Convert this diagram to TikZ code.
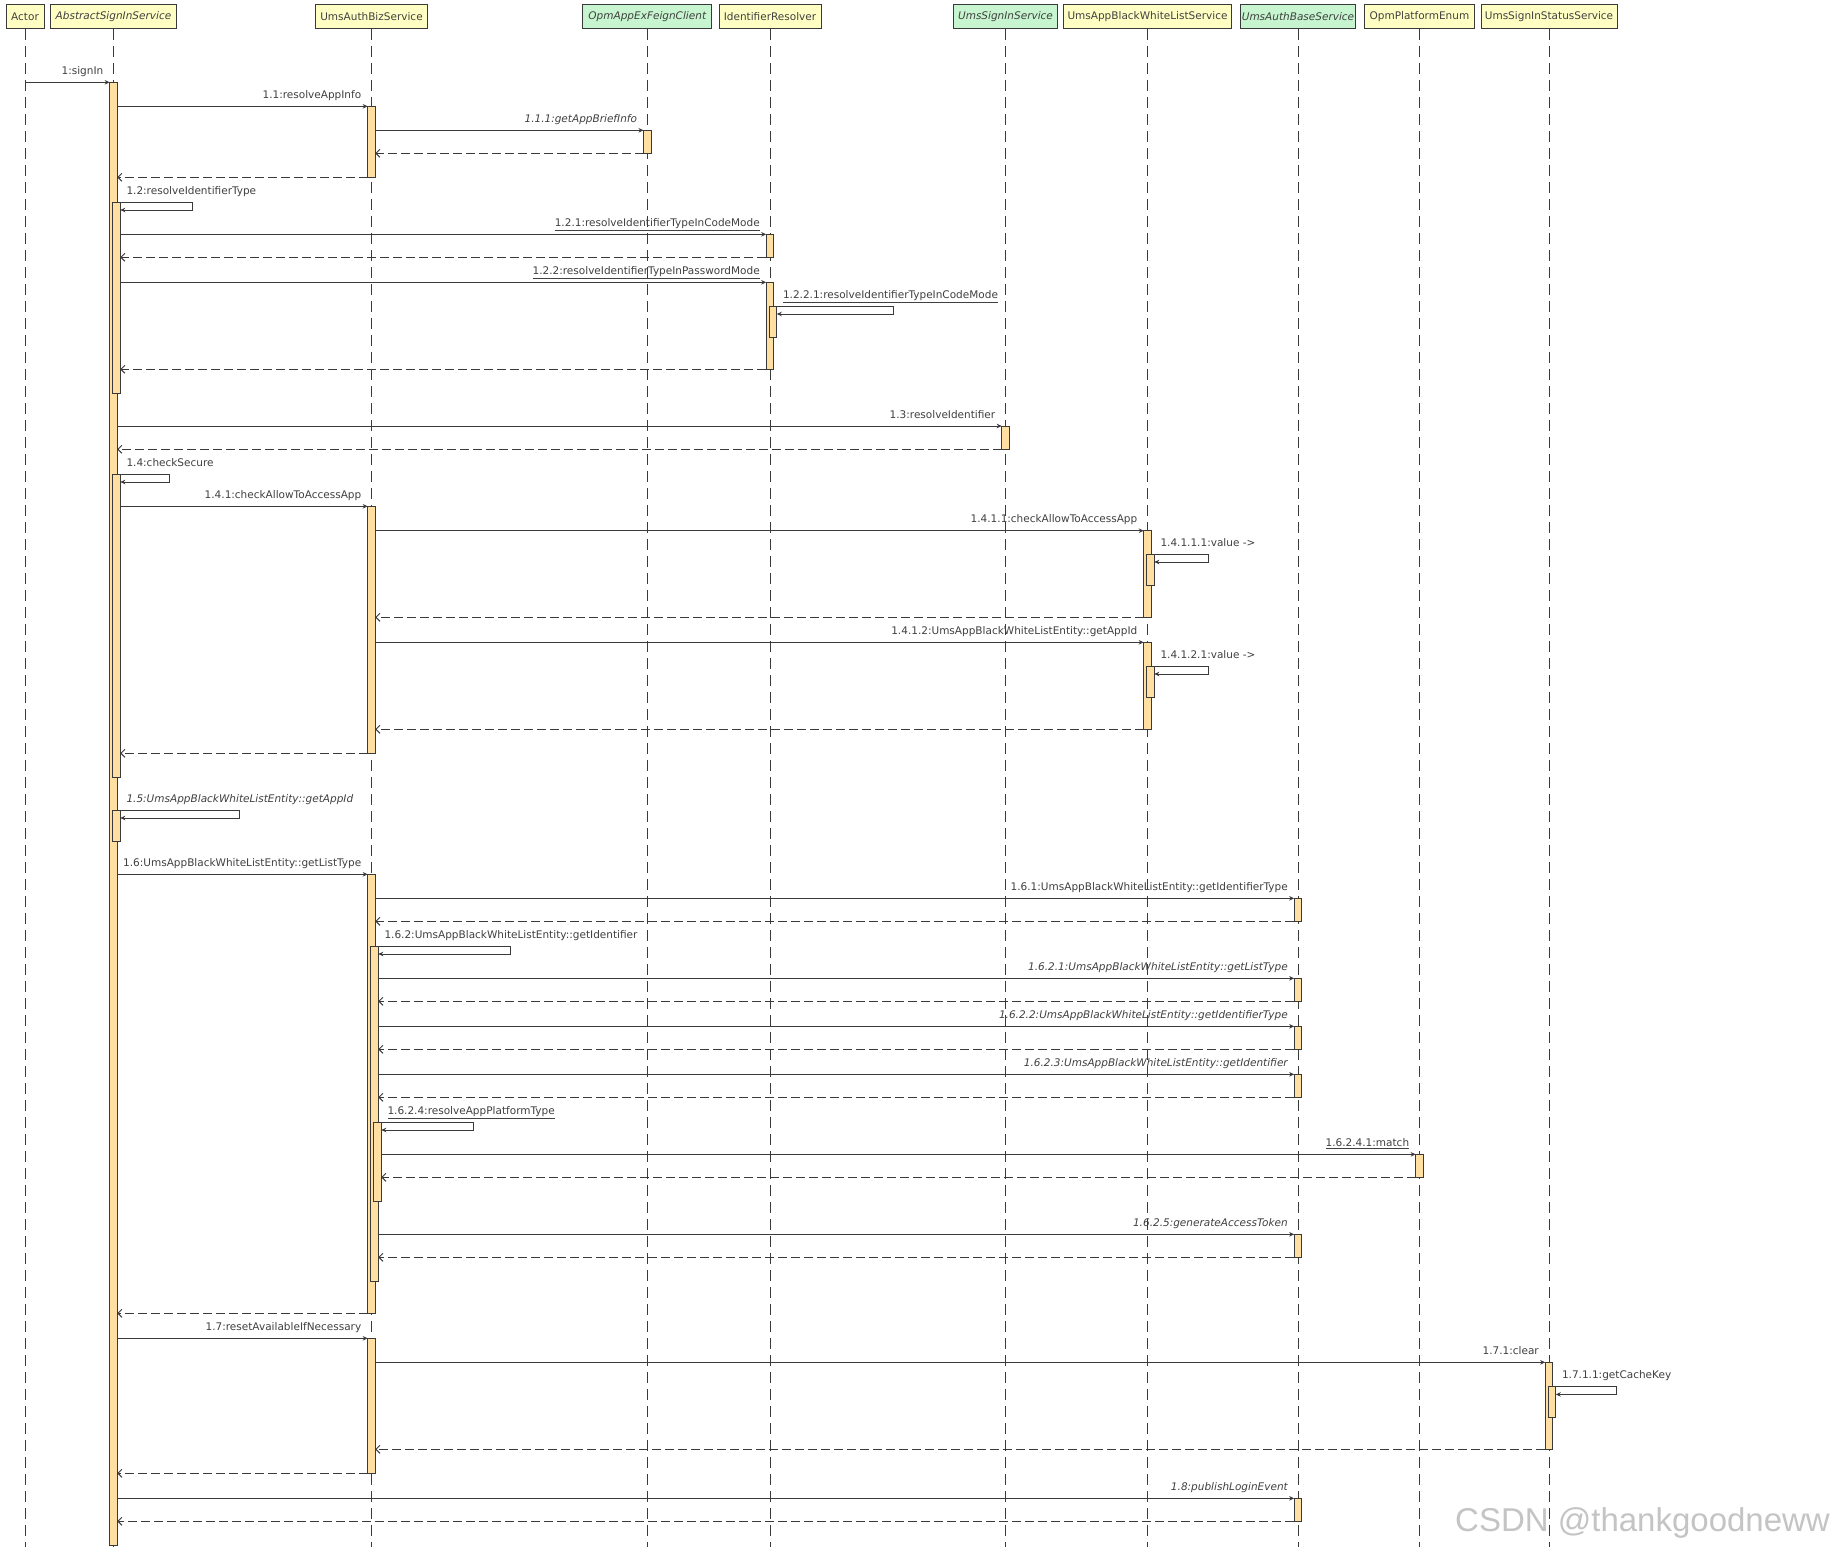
\documentclass[tikz,border=0pt]{standalone}
\usepackage{fontspec}
\setmainfont{DejaVu Sans}
\newfontfamily\wmfont{Liberation Sans}
\usetikzlibrary{arrows.meta}
\definecolor{lnc}{HTML}{3A3A3A}
\definecolor{txc}{HTML}{404040}
\definecolor{actfill}{HTML}{FFDFA2}
\definecolor{hdryel}{HTML}{FFFFC4}
\definecolor{hdrgrn}{HTML}{C6F5CF}
\definecolor{wmc}{HTML}{C4C4C4}
\newcommand\actv[4]{\node[act, minimum height={(#4)-(#3)}] (#1) at ({#2},{((#3)+(#4))/2}) {};}
\begin{document}
\begin{tikzpicture}[x=1pt,y=-1pt,
  font=\fontsize{10.5}{12}\selectfont,
  hdr/.style={draw=lnc, line width=0.9pt, fill=hdryel, minimum height=23.6pt, inner sep=0pt, text=txc},
  hdrI/.style={hdr, fill=hdrgrn, font=\fontsize{10.5}{12}\selectfont\itshape},
  life/.style={draw=lnc, line width=0.8pt, dash pattern=on 11pt off 6pt},
  act/.style={draw=lnc, line width=0.8pt, fill=actfill, minimum width=7.6pt, inner sep=0pt, outer sep=0pt},
  msg/.style={draw=lnc, line width=0.9pt, -{Stealth[length=5pt,width=4.5pt]}},
  ret/.style={draw=lnc, line width=0.9pt, dash pattern=on 9pt off 4pt, -{Straight Barb[length=4pt,width=8pt]}},
  lbl/.style={text=txc, inner sep=0pt, anchor=base east, xshift=-6pt, yshift=8pt},
  ilbl/.style={lbl, font=\fontsize{10.5}{12}\selectfont\itshape},
  slbl/.style={text=txc, inner sep=0pt, anchor=base west, xshift=6pt, yshift=8pt},
  islbl/.style={slbl, font=\fontsize{10.5}{12}\selectfont\itshape},
]
\fill[white] (0,0) rectangle (1837,1551);
\useasboundingbox (0,0) rectangle (1837,1551);

% watermark (under the drawing)
\node[text=wmc, font=\wmfont\fontsize{33}{36}\selectfont, anchor=base west, inner sep=0pt] (wm) at (1455,1531) {CSDN @thankgoodneww};

% headers
\node[hdr,  minimum width=38pt]    (hActor) at (25,16.5)     {Actor};
\node[hdr,  minimum width=126pt, font=\fontsize{10.5}{12}\selectfont\itshape] (hAbs) at (113.5,16.5) {AbstractSignInService};
\node[hdr,  minimum width=111.5pt] (hBiz)  at (371.5,16.5)   {UmsAuthBizService};
\node[hdrI, minimum width=129pt]   (hOpm)  at (647.3,16.5)   {OpmAppExFeignClient};
\node[hdr,  minimum width=102pt]   (hIR)   at (770,16.5)     {IdentifierResolver};
\node[hdrI, minimum width=103.4pt] (hSI)   at (1005.5,16.5)  {UmsSignInService};
\node[hdr,  minimum width=167.3pt] (hBWL)  at (1147.5,16.5)  {UmsAppBlackWhiteListService};
\node[hdrI, minimum width=115pt]   (hAB)   at (1298,16.5)    {UmsAuthBaseService};
\node[hdr,  minimum width=110pt]   (hPE)   at (1419.4,16.5)  {OpmPlatformEnum};
\node[hdr,  minimum width=136pt]   (hSS)   at (1549,16.5)    {UmsSignInStatusService};

% lifelines
\coordinate (lend) at (0,1547);
\foreach \h in {hActor,hAbs,hBiz,hOpm,hIR,hSI,hBWL,hAB,hPE,hSS}
  \draw[life] (\h) -- (\h |- lend);

% activations
\actv{aA0}{113.5}{82.3}{1545}
\actv{aA1}{116.5}{202.3}{393.3}
\actv{aA2}{116.5}{474.3}{777.3}
\actv{aA3}{116.5}{810.3}{841.3}
\actv{bB1}{371.5}{106.3}{177.3}
\actv{bB2}{371.5}{506.3}{753.3}
\actv{bB3}{371.5}{874.3}{1313.3}
\actv{bB3n}{374.5}{946.3}{1281.3}
\actv{bB3nn}{377.5}{1122.3}{1201.3}
\actv{bB4}{371.5}{1338.3}{1473.3}
\actv{cO1}{647.3}{130.3}{153.3}
\actv{dI1}{770}{234.3}{257.3}
\actv{dI2}{770}{282.3}{369.3}
\actv{dI2n}{773}{306.3}{337.3}
\actv{eS1}{1005.5}{426}{449.3}
\actv{fW1}{1147.5}{530.7}{617.3}
\actv{fW1n}{1150.5}{554.3}{585.3}
\actv{fW2}{1147.5}{642.3}{729.3}
\actv{fW2n}{1150.5}{666.3}{697.3}
\actv{gB1}{1298}{898.3}{921.3}
\actv{gB2}{1298}{978.3}{1001.3}
\actv{gB3}{1298}{1026.3}{1049.3}
\actv{gB4}{1298}{1074.3}{1097.3}
\actv{gB5}{1298}{1234.3}{1257.3}
\actv{gB6}{1298}{1498.3}{1521.3}
\actv{hP1}{1419.4}{1154.3}{1177.3}
\actv{iS1}{1549}{1362.3}{1449.3}
\actv{iS1n}{1552}{1386.7}{1417.3}

% messages
\draw[msg] (hActor |- aA0.north) -- (aA0.north west) node[pos=1,lbl] (m1) {1:signIn};
\draw[msg] (aA0.east |- bB1.north) -- (bB1.north west) node[pos=1,lbl] (m11) {1.1:resolveAppInfo};
\draw[msg] (bB1.east |- cO1.north) -- (cO1.north west) node[pos=1,ilbl] (m111) {1.1.1:getAppBriefInfo};
\draw[ret] (cO1.south west) -- (bB1.east |- cO1.south west);
\draw[ret] (bB1.south west) -- (aA0.east |- bB1.south west);

\draw[msg] (aA1.north east) -- ++(72,0) |- ([yshift=-7.7pt]aA1.north east);
\path (aA1.north east) node[slbl] (m12) {1.2:resolveIdentifierType};
\draw[msg] (aA1.east |- dI1.north) -- (dI1.north west) node[pos=1,lbl] (m121) {\underline{1.2.1:resolveIdentifierTypeInCodeMode}};
\draw[ret] (dI1.south west) -- (aA1.east |- dI1.south west);
\draw[msg] (aA1.east |- dI2.north) -- (dI2.north west) node[pos=1,lbl] (m122) {\underline{1.2.2:resolveIdentifierTypeInPasswordMode}};
\draw[msg] (dI2n.north east) -- ++(117,0) |- ([yshift=-7.7pt]dI2n.north east);
\path (dI2n.north east) node[slbl] (m1221) {\underline{1.2.2.1:resolveIdentifierTypeInCodeMode}};
\draw[ret] (dI2.south west) -- (aA1.east |- dI2.south west);

\draw[msg] (aA0.east |- eS1.north) -- (eS1.north west) node[pos=1,lbl] (m13) {1.3:resolveIdentifier};
\draw[ret] (eS1.south west) -- (aA0.east |- eS1.south west);

\draw[msg] (aA2.north east) -- ++(49,0) |- ([yshift=-7.7pt]aA2.north east);
\path (aA2.north east) node[slbl] (m14) {1.4:checkSecure};
\draw[msg] (aA2.east |- bB2.north) -- (bB2.north west) node[pos=1,lbl] (m141) {1.4.1:checkAllowToAccessApp};
\draw[msg] (bB2.east |- fW1.north) -- (fW1.north west) node[pos=1,lbl] (m1411) {1.4.1.1:checkAllowToAccessApp};
\draw[msg] (fW1n.north east) -- ++(54,0) |- ([yshift=-7.7pt]fW1n.north east);
\path (fW1n.north east) node[slbl] (m14111) {1.4.1.1.1:value ->};
\draw[ret] (fW1.south west) -- (bB2.east |- fW1.south west);
\draw[msg] (bB2.east |- fW2.north) -- (fW2.north west) node[pos=1,lbl] (m1412) {1.4.1.2:UmsAppBlackWhiteListEntity::getAppId};
\draw[msg] (fW2n.north east) -- ++(54,0) |- ([yshift=-7.7pt]fW2n.north east);
\path (fW2n.north east) node[slbl] (m14121) {1.4.1.2.1:value ->};
\draw[ret] (fW2.south west) -- (bB2.east |- fW2.south west);
\draw[ret] (bB2.south west) -- (aA2.east |- bB2.south west);

\draw[msg] (aA3.north east) -- ++(119,0) |- ([yshift=-7.7pt]aA3.north east);
\path (aA3.north east) node[islbl] (m15) {1.5:UmsAppBlackWhiteListEntity::getAppId};

\draw[msg] (aA0.east |- bB3.north) -- (bB3.north west) node[pos=1,lbl] (m16) {1.6:UmsAppBlackWhiteListEntity::getListType};
\draw[msg] (bB3.east |- gB1.north) -- (gB1.north west) node[pos=1,lbl] (m161) {1.6.1:UmsAppBlackWhiteListEntity::getIdentifierType};
\draw[ret] (gB1.south west) -- (bB3.east |- gB1.south west);
\draw[msg] (bB3n.north east) -- ++(132,0) |- ([yshift=-7.7pt]bB3n.north east);
\path (bB3n.north east) node[slbl] (m162) {1.6.2:UmsAppBlackWhiteListEntity::getIdentifier};
\draw[msg] (bB3n.east |- gB2.north) -- (gB2.north west) node[pos=1,ilbl] (m1621) {1.6.2.1:UmsAppBlackWhiteListEntity::getListType};
\draw[ret] (gB2.south west) -- (bB3n.east |- gB2.south west);
\draw[msg] (bB3n.east |- gB3.north) -- (gB3.north west) node[pos=1,ilbl] (m1622) {1.6.2.2:UmsAppBlackWhiteListEntity::getIdentifierType};
\draw[ret] (gB3.south west) -- (bB3n.east |- gB3.south west);
\draw[msg] (bB3n.east |- gB4.north) -- (gB4.north west) node[pos=1,ilbl] (m1623) {1.6.2.3:UmsAppBlackWhiteListEntity::getIdentifier};
\draw[ret] (gB4.south west) -- (bB3n.east |- gB4.south west);
\draw[msg] (bB3nn.north east) -- ++(92,0) |- ([yshift=-7.7pt]bB3nn.north east);
\path (bB3nn.north east) node[slbl] (m1624) {\underline{1.6.2.4:resolveAppPlatformType}};
\draw[msg] (bB3nn.east |- hP1.north) -- (hP1.north west) node[pos=1,lbl] (m16241) {\underline{1.6.2.4.1:match}};
\draw[ret] (hP1.south west) -- (bB3nn.east |- hP1.south west);
\draw[msg] (bB3n.east |- gB5.north) -- (gB5.north west) node[pos=1,ilbl] (m1625) {1.6.2.5:generateAccessToken};
\draw[ret] (gB5.south west) -- (bB3n.east |- gB5.south west);
\draw[ret] (bB3.south west) -- (aA0.east |- bB3.south west);

\draw[msg] (aA0.east |- bB4.north) -- (bB4.north west) node[pos=1,lbl] (m17) {1.7:resetAvailableIfNecessary};
\draw[msg] (bB4.east |- iS1.north) -- (iS1.north west) node[pos=1,lbl] (m171) {1.7.1:clear};
\draw[msg] (iS1n.north east) -- ++(61,0) |- ([yshift=-7.7pt]iS1n.north east);
\path (iS1n.north east) node[slbl] (m1711) {1.7.1.1:getCacheKey};
\draw[ret] (iS1.south west) -- (bB4.east |- iS1.south west);
\draw[ret] (bB4.south west) -- (aA0.east |- bB4.south west);

\draw[msg] (aA0.east |- gB6.north) -- (gB6.north west) node[pos=1,ilbl] (m18) {1.8:publishLoginEvent};
\draw[ret] (gB6.south west) -- (aA0.east |- gB6.south west);
\end{tikzpicture}
\end{document}
